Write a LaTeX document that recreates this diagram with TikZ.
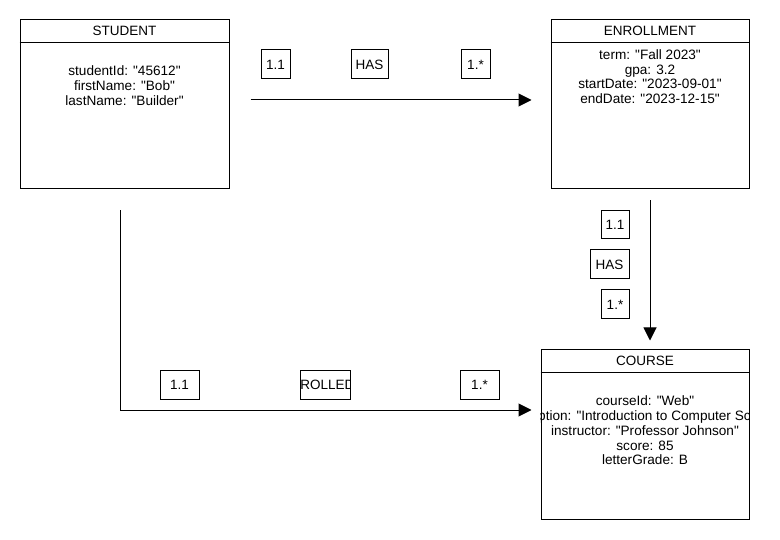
\documentclass[tikz,border=0pt]{standalone}
\usepackage{fontspec}
\setmainfont{Liberation Sans}[Ligatures=TeXOff]
\usetikzlibrary{arrows.meta}

\tikzset{
  entity/.style={draw,line width=1pt,inner sep=0pt},
  attrs/.style={align=center,inner sep=0pt,font=\fontsize{13.6}{14.7}\selectfont},
  title/.style={inner sep=0pt,font=\fontsize{13.5}{14.7}\selectfont},
  card/.style={draw,line width=1pt,inner sep=0pt,minimum width=29pt,minimum height=29pt,
    font=\fontsize{13.5}{14.7}\selectfont},
  rel/.style={line width=1pt,-{Triangle[length=13pt,width=13pt]}}
}

\begin{document}
\begin{tikzpicture}[x=1pt,y=-1pt]
\useasboundingbox (0,0) rectangle (780,540);

\node[entity,minimum width=209pt,minimum height=169pt] (student) at (124.5,104.5) {};
\draw[line width=1pt] ([yshift=-23pt]student.north west) -- ([yshift=-23pt]student.north east);
\node[title] (studenttitle) at ([yshift=-11.5pt]student.north) {STUDENT};
\node[attrs] (studentattrs) at (124.5,85.5) {studentId: "45612"\\firstName: "Bob"\\lastName: "Builder"};

\node[entity,minimum width=198pt,minimum height=169pt] (enroll) at (650,104.5) {};
\draw[line width=1pt] ([yshift=-23pt]enroll.north west) -- ([yshift=-23pt]enroll.north east);
\node[title] (enrolltitle) at ([yshift=-11.5pt]enroll.north) {ENROLLMENT};
\node[attrs] (enrollattrs) at (650,76.7) {term: "Fall 2023"\\gpa: 3.2\\startDate: "2023-09-01"\\endDate: "2023-12-15"};

\node[entity,minimum width=208pt,minimum height=169pt] (course) at (645,434.5) {};
\draw[line width=1pt] ([yshift=-23pt]course.north west) -- ([yshift=-23pt]course.north east);
\node[title] (coursetitle) at ([yshift=-11.5pt]course.north) {COURSE};
\begin{scope}
  \clip (course.north west) rectangle (course.south east);
  \node[attrs] (courseattrs) at (645,430.5) {courseId: "Web"\\description: "Introduction to Computer Science"\\instructor: "Professor Johnson"\\score: 85\\letterGrade: B};
\end{scope}

\node[card] (hasone) at (275.5,64.5) {1.1};
\node[card,minimum width=37pt] (has) at (369.5,64.5) {HAS};
\node[card] (hasmany) at (475.5,64.5) {1.*};
\draw[rel,shorten <=21pt,shorten >=19pt] (student.east |- 0,100) -- (enroll.west |- 0,100);

\node[card,minimum width=28pt,minimum height=28pt] (takesone) at (615,225) {1.1};
\node[card,minimum width=39pt] (takes) at (609.5,264.5) {HAS};
\node[card,minimum width=28pt] (takesmany) at (615,304.5) {1.*};
\draw[rel,shorten <=11pt,shorten >=9pt] (enroll.south) -- (enroll.south |- course.north);

\node[card,minimum width=39pt,minimum height=28pt] (enrolledone) at (179.5,385) {1.1};
\node[card,minimum width=50pt,minimum height=28pt,
  path picture={\node[title] at ([xshift=-7pt]path picture bounding box.center) {ENROLLED};}] (enrolled) at (325,385) {};
\node[card,minimum width=39pt,minimum height=28pt] (enrolledmany) at (479.5,385) {1.*};
\draw[rel,shorten <=21pt,shorten >=9pt] ([xshift=-4.5pt]student.south) |- (course.west |- 0,410);
\end{tikzpicture}
\end{document}
